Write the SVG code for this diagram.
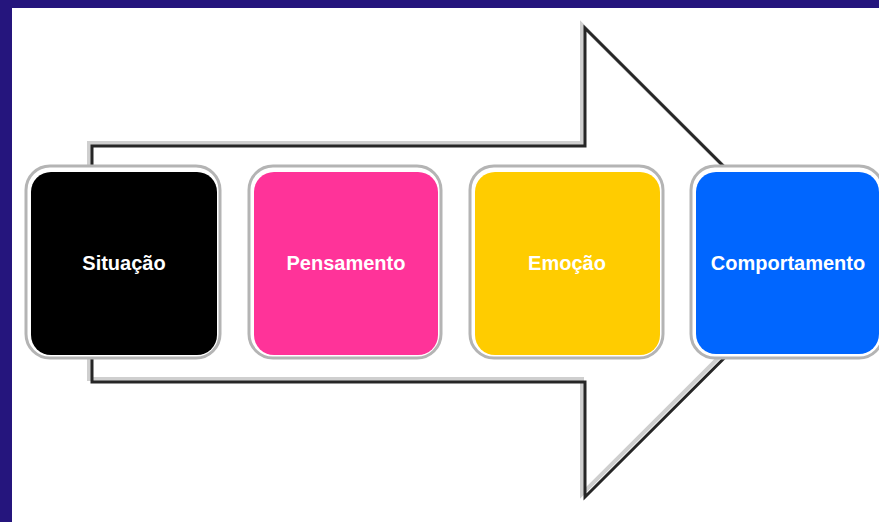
<svg xmlns="http://www.w3.org/2000/svg" width="879" height="522" viewBox="0 0 879 522">
  <defs>
    <style>
      .ring { fill: #ffffff; stroke: #b4b4b4; stroke-width: 3; }
      .lbl { font-family: "Liberation Sans", Arial, sans-serif; font-weight: bold; font-size: 20px; fill: #ffffff; text-anchor: middle; }
      .arrowShadow { fill: none; stroke: #cfcfcf; stroke-width: 4; stroke-linejoin: miter; }
      .arrowLine { fill: none; stroke: #262626; stroke-width: 3; stroke-linejoin: miter; }
    </style>
  </defs>
  <rect x="0" y="0" width="879" height="522" fill="#ffffff"/>
  <rect x="0" y="0" width="879" height="8" fill="#25157d"/>
  <rect x="0" y="0" width="12" height="522" fill="#25157d"/>

  <g id="connectors">
    <polygon points="92,146 585,146 585,28 820,262.5 585,497 585,382 92,382" fill="#ffffff"/>
    <polygon class="arrowShadow" transform="translate(-3,-3)" points="92,146 585,146 585,28 820,262.5 585,497 585,382 92,382"/>
    <polygon class="arrowLine" points="92,146 585,146 585,28 820,262.5 585,497 585,382 92,382"/>
  </g>

  <g id="node-situacao">
    <rect class="ring" x="26" y="166" width="194" height="192" rx="24"/>
    <rect x="31" y="172" width="186" height="183" rx="20" fill="#000000"/>
    <text class="lbl" x="124" y="270">Situação</text>
  </g>
  <g id="node-pensamento">
    <rect class="ring" x="249" y="166" width="192" height="192" rx="24"/>
    <rect x="254" y="172" width="184" height="183" rx="20" fill="#ff3399"/>
    <text class="lbl" x="346" y="270">Pensamento</text>
  </g>
  <g id="node-emocao">
    <rect class="ring" x="470" y="166" width="193" height="192" rx="24"/>
    <rect x="475" y="172" width="185" height="183" rx="20" fill="#ffcc00"/>
    <text class="lbl" x="567" y="270">Emoção</text>
  </g>
  <g id="node-comportamento">
    <rect class="ring" x="691" y="166" width="192" height="192" rx="24"/>
    <rect x="696" y="172" width="183" height="182" rx="20" fill="#0066ff"/>
    <text class="lbl" x="788" y="270">Comportamento</text>
  </g>
</svg>
